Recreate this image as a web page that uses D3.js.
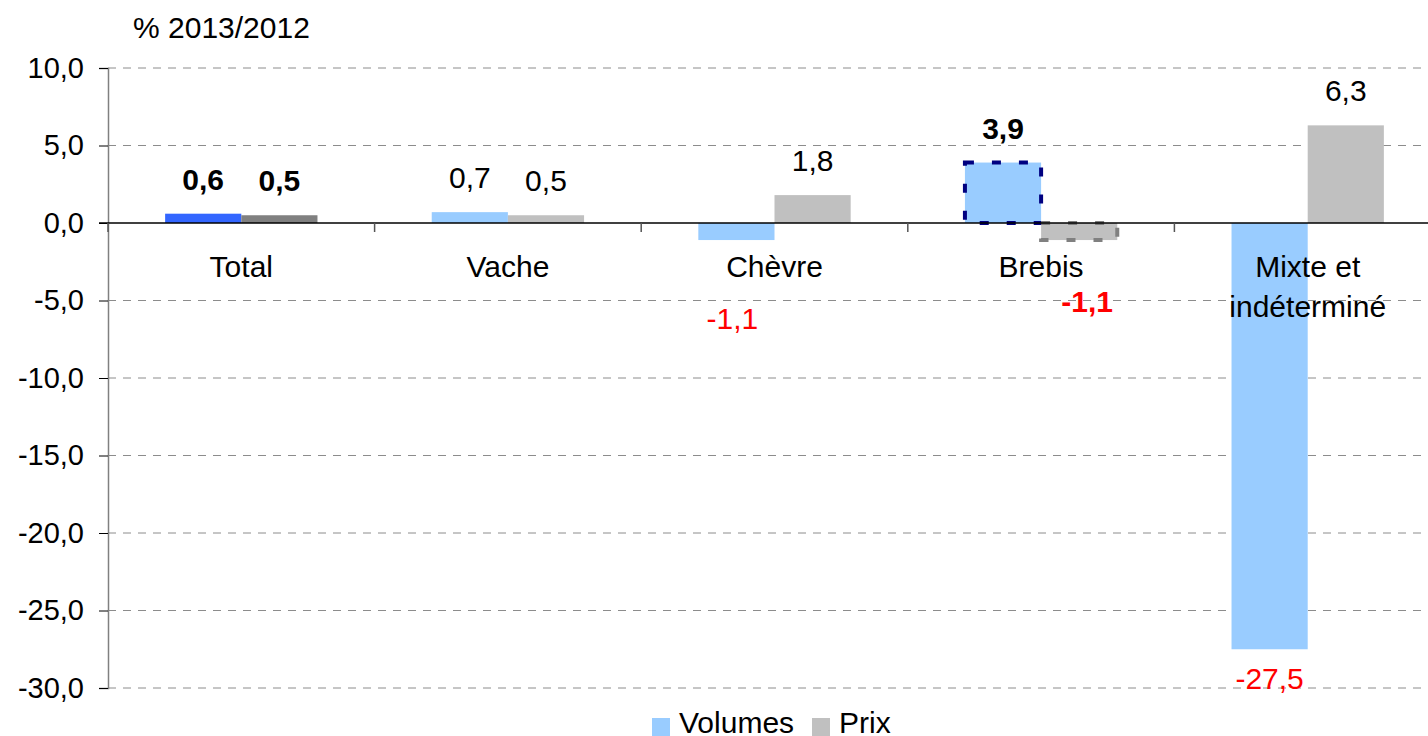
<!DOCTYPE html>
<html>
<head>
<meta charset="utf-8">
<script src="https://cdn.jsdelivr.net/npm/d3@7"></script>
<style>
  body { margin: 0; background: #fff; }
  svg { display: block; font-family: "Liberation Sans", Arial, sans-serif; }
</style>
</head>
<body>
<svg id="chart"></svg>
<script>
var categories = ["Total", "Vache", "Chèvre", "Brebis", "Mixte et indéterminé"]
var seriesNames = ["Volumes", "Prix"]
var volumes = [0.6, 0.7, -1.1, 3.9, -27.5]
var prix = [0.5, 0.5, 1.8, -1.1, 6.3]
var yTicks = [10, 5, 0, -5, -10, -15, -20, -25, -30]

var dimensions = {
    width: 1428,
    height: 736,
    margin: { top: 68, left: 108 }
}
var plotBottom = 688
var plotRight = 108 + 5 * 266.6

var svg = d3.select("#chart")
            .attr("width", dimensions.width)
            .attr("height", dimensions.height)

var fmt = v => d3.format(".1f")(v).replace(".", ",").replace("−", "-")

var dataset = categories.map((c, i) => ({
    cat: c,
    values: [
        { name: "Volumes", value: volumes[i] },
        { name: "Prix", value: prix[i] }
    ]
}))

var xScale = d3.scaleBand()
               .domain(categories)
               .range([dimensions.margin.left, plotRight])
               .paddingInner(1.5 / 3.5)
               .paddingOuter(0.75 / 3.5)
var xInner = d3.scaleBand()
               .domain(seriesNames)
               .range([0, xScale.bandwidth()])
var yScale = d3.scaleLinear()
               .domain([-30, 10])
               .range([plotBottom, dimensions.margin.top])

// gridlines
svg.append("g")
   .selectAll("line")
   .data(yTicks.filter(d => d != 0))
   .enter()
   .append("line")
   .attr("x1", dimensions.margin.left)
   .attr("x2", dimensions.width)
   .attr("y1", d => yScale(d))
   .attr("y2", d => yScale(d))
   .attr("stroke", "#8c8c8c")
   .attr("stroke-width", 1)
   .attr("stroke-dasharray", "8,7")

// y axis
var yAxisGen = d3.axisLeft(yScale).tickValues(yTicks).tickSize(9).tickFormat(fmt)
var yAxis = svg.append("g")
               .attr("transform", `translate(${dimensions.margin.left},0)`)
               .call(yAxisGen)
yAxis.select(".domain").attr("stroke", "#808080").attr("stroke-width", 1.5)
yAxis.selectAll(".tick line").attr("stroke", "#000")
yAxis.selectAll(".tick text")
     .attr("font-size", 29)
     .attr("fill", "#000")
     .attr("x", -24)
     .attr("font-family", "Liberation Sans, Arial, sans-serif")

// colours
function fillFor(cat, name) {
    if (cat == "Total") return name == "Volumes" ? "#3366ff" : "#808080"
    return name == "Volumes" ? "#99ccff" : "#c0c0c0"
}

var groups = svg.append("g")
                .selectAll("g")
                .data(dataset)
                .enter()
                .append("g")
                .attr("transform", d => `translate(${xScale(d.cat)},0)`)

groups.selectAll("rect")
      .data(d => d.values.map(v => Object.assign({ cat: d.cat }, v)))
      .enter()
      .append("rect")
      .attr("x", d => xInner(d.name))
      .attr("width", xInner.bandwidth())
      .attr("y", d => yScale(Math.max(0, d.value)))
      .attr("height", d => Math.abs(yScale(d.value) - yScale(0)))
      .attr("fill", d => fillFor(d.cat, d.name))

// highlighted Brebis bars (dashed borders)
groups.filter(d => d.cat == "Brebis")
      .selectAll(".hl")
      .data(d => d.values)
      .enter()
      .append("rect")
      .attr("class", "hl")
      .attr("x", d => xInner(d.name))
      .attr("width", xInner.bandwidth())
      .attr("y", d => yScale(Math.max(0, d.value)))
      .attr("height", d => Math.abs(yScale(d.value) - yScale(0)))
      .attr("fill", "none")
      .attr("stroke", d => d.name == "Volumes" ? "#000080" : "#808080")
      .attr("stroke-width", 4)
      .attr("stroke-dasharray", "9,18")

// zero line + category ticks
svg.append("line")
   .attr("x1", dimensions.margin.left - 9)
   .attr("x2", dimensions.width)
   .attr("y1", yScale(0))
   .attr("y2", yScale(0))
   .attr("stroke", "#000")
   .attr("stroke-width", 1.5)

var step = xScale.step()
svg.append("g")
   .selectAll("line")
   .data(d3.range(categories.length + 1))
   .enter()
   .append("line")
   .attr("x1", i => dimensions.margin.left + i * step)
   .attr("x2", i => dimensions.margin.left + i * step)
   .attr("y1", yScale(0))
   .attr("y2", yScale(0) + 9)
   .attr("stroke", "#555")
   .attr("stroke-width", 1.5)

// category labels
var catLines = { "Mixte et indéterminé": ["Mixte et", "indéterminé"] }
svg.append("g")
   .selectAll("text")
   .data(categories)
   .enter()
   .append("text")
   .attr("text-anchor", "middle")
   .attr("font-size", 30)
   .attr("fill", "#000")
   .attr("transform", d => `translate(${xScale(d) + xScale.bandwidth() / 2},277)`)
   .each(function(d) {
       var lines = catLines[d] || [d]
       d3.select(this).selectAll("tspan")
         .data(lines)
         .enter()
         .append("tspan")
         .attr("x", 0)
         .attr("y", (l, i) => i * 40)
         .text(l => l)
   })

// data labels
var boldCats = ["Total", "Brebis"]
var negLabelY = { "Chèvre": 329, "Brebis": 312 }
var negLabelDx = { "Chèvre": -4, "Brebis": 8 }
groups.selectAll(".lbl")
      .data(d => d.values.map(v => Object.assign({ cat: d.cat }, v)))
      .enter()
      .append("text")
      .attr("class", "lbl")
      .attr("text-anchor", "middle")
      .attr("font-size", 30)
      .attr("font-weight", d => boldCats.includes(d.cat) ? "bold" : "normal")
      .attr("fill", d => d.value < 0 ? "#ff0000" : "#000")
      .attr("x", d => xInner(d.name) + xInner.bandwidth() / 2 + (d.value < 0 ? (negLabelDx[d.cat] || 0) : 0))
      .attr("y", d => d.value >= 0 ? yScale(d.value) - 24 : (negLabelY[d.cat] || yScale(d.value) + 40))
      .text(d => fmt(d.value))

// axis title
svg.append("text")
   .attr("x", 133)
   .attr("y", 38)
   .attr("font-size", 30)
   .attr("fill", "#000")
   .text("% 2013/2012")

// legend
var legend = svg.append("g")
                .selectAll("g")
                .data(seriesNames)
                .enter()
                .append("g")
                .attr("transform", (d, i) => `translate(${i == 0 ? 652 : 812},0)`)
legend.append("rect")
      .attr("x", 0)
      .attr("y", 718)
      .attr("width", 18)
      .attr("height", 18)
      .attr("fill", d => d == "Volumes" ? "#99ccff" : "#c0c0c0")
legend.append("text")
      .attr("x", 27)
      .attr("y", 733)
      .attr("font-size", 30)
      .attr("fill", "#000")
      .text(d => d)
</script>
</body>
</html>
